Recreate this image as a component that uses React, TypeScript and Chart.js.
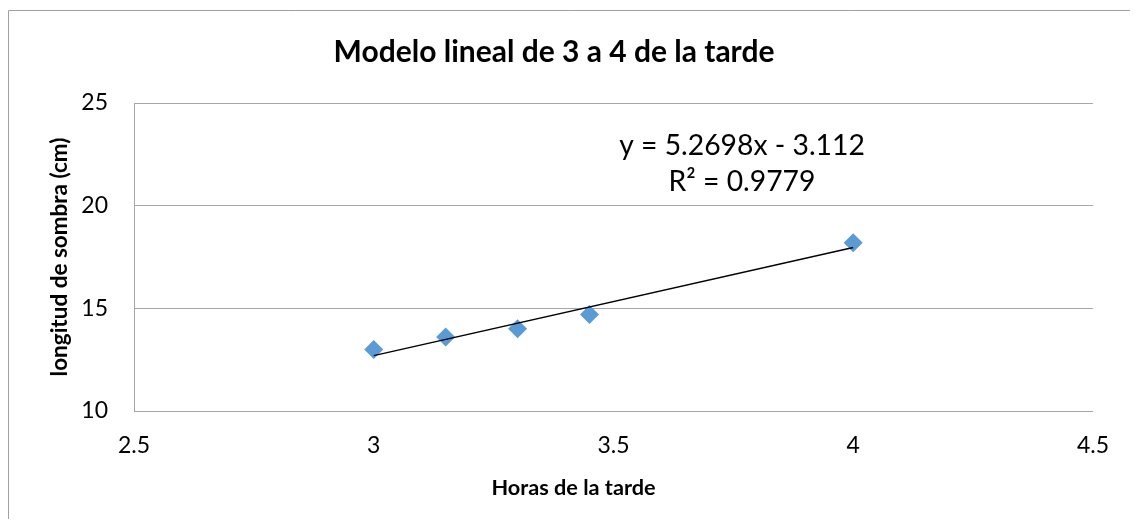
import React, { useEffect, useRef } from "react";
import { Chart, registerables } from "chart.js";

Chart.register(...registerables);

const chartTitle = "Modelo lineal de 3 a 4 de la tarde";
const xAxisTitle = "Horas de la tarde";
const yAxisTitle = "longitud de sombra (cm)";
const horas = [3, 3.15, 3.3, 3.45, 4];
const sombra = [13.0, 13.6, 14.0, 14.7, 18.2];
const xTicks = [2.5, 3, 3.5, 4, 4.5];
const yTicks = [10, 15, 20, 25];
const equationLines = ["y = 5.2698x - 3.112", "R² = 0.9779"];

function fitLine(xs: number[], ys: number[]) {
  const n = xs.length;
  const mx = xs.reduce((a, b) => a + b, 0) / n;
  const my = ys.reduce((a, b) => a + b, 0) / n;
  let sxy = 0, sxx = 0;
  for (let i = 0; i < n; i++) {
    sxy += (xs[i] - mx) * (ys[i] - my);
    sxx += (xs[i] - mx) * (xs[i] - mx);
  }
  const m = sxy / sxx;
  return { m, b: my - m * mx };
}

const FONT = "Lato, 'Open Sans', sans-serif";

export default function App() {
  const ref = useRef<HTMLCanvasElement | null>(null);
  useEffect(() => {
    if (!ref.current) return;
    const { m, b } = fitLine(horas, sombra);
    const xMin = Math.min(...horas);
    const xMax = Math.max(...horas);
    const trend = [
      { x: xMin, y: m * xMin + b },
      { x: xMax, y: m * xMax + b },
    ];
    const deco = {
      id: "deco",
      beforeDraw(chart: any) {
        const ctx = chart.ctx;
        ctx.save();
        ctx.strokeStyle = "#a0a0a0";
        ctx.lineWidth = 1;
        ctx.beginPath();
        ctx.moveTo(0.5, chart.height);
        ctx.lineTo(0.5, 2.5);
        ctx.lineTo(chart.width, 2.5);
        ctx.stroke();
        ctx.restore();
      },
      afterDraw(chart: any) {
        const ctx = chart.ctx;
        ctx.save();
        ctx.fillStyle = "#000";
        ctx.textAlign = "center";
        ctx.textBaseline = "alphabetic";
        ctx.font = `bold 21.7px ${FONT}`;
        ctx.fillText(xAxisTitle, 565.5, 487);
        ctx.font = `28.3px ${FONT}`;
        ctx.fillText(equationLines[0], 734, 147);
        ctx.fillText(equationLines[1], 734, 182.7);
        ctx.restore();
      },
    };
    const chart = new Chart(ref.current, {
      type: "scatter",
      data: {
        datasets: [
          {
            type: "line",
            label: "Lineal",
            data: trend,
            borderColor: "#000000",
            borderWidth: 1.5,
            pointRadius: 0,
            fill: false,
            order: 0,
          },
          {
            label: "Sombra",
            data: horas.map((x, i) => ({ x, y: sombra[i] })),
            backgroundColor: "#5B9BD5",
            borderWidth: 0,
            pointStyle: "rectRot",
            pointRadius: 9.5,
            order: 1,
          },
        ],
      },
      options: {
        animation: false,
        responsive: true,
        maintainAspectRatio: false,
        layout: { padding: { left: 0, right: 30, top: 0, bottom: 0 } },
        plugins: {
          legend: { display: false },
          tooltip: { enabled: false },
          title: {
            display: true,
            text: chartTitle,
            color: "#000",
            font: { family: FONT, size: 30, weight: "bold", lineHeight: 1.2 },
            padding: { top: 26, bottom: 33 },
          },
        },
        scales: {
          x: {
            type: "linear",
            min: 2.5,
            max: 4.5,
            afterBuildTicks(scale: any) {
              scale.ticks = xTicks.map((v) => ({ value: v }));
            },
            afterFit(scale: any) {
              scale.height = 108;
            },
            grid: { display: false, drawTicks: false },
            border: { display: true, color: "#a6a6a6", width: 1 },
            ticks: {
              color: "#000",
              padding: 21,
              font: { family: FONT, size: 23 },
              maxRotation: 0,
              callback: (v: any) => String(v),
            },
          },
          y: {
            type: "linear",
            min: 10,
            max: 25,
            afterBuildTicks(scale: any) {
              scale.ticks = yTicks.map((v) => ({ value: v }));
            },
            afterFit(scale: any) {
              scale.width = 126;
            },
            grid: { display: true, color: "#a6a6a6", lineWidth: 1, drawTicks: false },
            border: { display: true, color: "#a6a6a6", width: 1 },
            ticks: {
              color: "#000",
              padding: 26,
              font: { family: FONT, size: 23 },
              callback: (v: any) => String(v),
            },
            title: {
              display: true,
              text: yAxisTitle,
              color: "#000",
              font: { family: FONT, size: 22.5, weight: "bold", lineHeight: 1.2 },
              padding: { top: 38, bottom: 0 },
            },
          },
        },
      },
      plugins: [deco],
    });
    return () => chart.destroy();
  }, []);
  return (
    <div style={{ width: 1122, height: 511, position: "relative" }}>
      <canvas ref={ref} />
    </div>
  );
}
